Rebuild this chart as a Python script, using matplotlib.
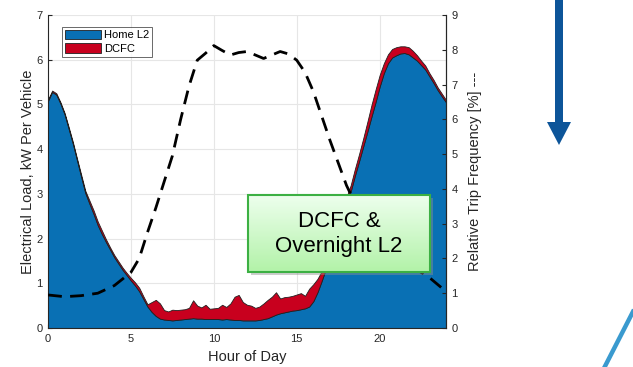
import numpy as np
import matplotlib
matplotlib.use('Agg')
import matplotlib.pyplot as plt
from matplotlib.patches import Rectangle, FancyArrow

plt.rcParams['font.family'] = ['Liberation Sans', 'DejaVu Sans']

# hour of day, 15 min steps
hours = np.arange(0, 24.01, 0.25)

# Home L2 load, kW per vehicle
home_l2 = [5.08, 5.28, 5.22, 5.02, 4.78, 4.45, 4.12, 3.75, 3.38, 3.02, 2.78, 2.55,
           2.30, 2.10, 1.92, 1.75, 1.58, 1.44, 1.30, 1.18, 1.06, 0.95, 0.82, 0.65,
           0.48, 0.36, 0.27, 0.21, 0.19, 0.18, 0.17, 0.18, 0.19, 0.20, 0.21, 0.22,
           0.21, 0.21, 0.20, 0.20, 0.20, 0.20, 0.19, 0.20, 0.19, 0.18, 0.18, 0.17,
           0.17, 0.17, 0.17, 0.18, 0.20, 0.22, 0.26, 0.30, 0.33, 0.35, 0.37, 0.39,
           0.40, 0.42, 0.44, 0.48, 0.60, 0.80, 1.05, 1.32, 1.60, 1.90, 2.20, 2.50,
           2.80, 3.05, 3.40, 3.72, 4.05, 4.38, 4.72, 5.05, 5.40, 5.70, 5.92, 6.05,
           6.10, 6.14, 6.15, 6.12, 6.05, 5.98, 5.88, 5.78, 5.63, 5.48, 5.32, 5.18,
           5.05]

# DCFC load stacked on top
dcfc = [0.03, 0.03, 0.03, 0.03, 0.03, 0.04, 0.04, 0.04, 0.05, 0.05, 0.07, 0.08,
        0.08, 0.08, 0.06, 0.05, 0.05, 0.05, 0.05, 0.05, 0.06, 0.07, 0.08, 0.06,
        0.05, 0.22, 0.36, 0.34, 0.21, 0.19, 0.24, 0.22, 0.22, 0.22, 0.24, 0.40,
        0.29, 0.25, 0.32, 0.23, 0.24, 0.25, 0.33, 0.27, 0.36, 0.52, 0.56, 0.41,
        0.35, 0.33, 0.28, 0.30, 0.35, 0.41, 0.44, 0.50, 0.33, 0.34, 0.33, 0.33,
        0.35, 0.36, 0.28, 0.40, 0.38, 0.30, 0.22, 0.18, 0.15, 0.15, 0.14, 0.14,
        0.13, 0.14, 0.15, 0.16, 0.18, 0.22, 0.26, 0.28, 0.26, 0.22, 0.20, 0.19,
        0.18, 0.16, 0.15, 0.16, 0.15, 0.12, 0.10, 0.09, 0.07, 0.07, 0.06, 0.06,
        0.05]

# relative trip frequency, %
trip_hours = [0, 1, 2, 3, 4, 5, 5.5, 6, 6.5, 7, 7.5, 8, 8.5, 9, 9.5, 10, 10.5, 11,
              11.5, 12, 12.5, 13, 13.5, 14, 14.5, 15, 15.5, 16, 16.5, 17, 17.5, 18,
              18.5, 19, 19.5, 20, 20.5, 21, 21.5, 22, 22.5, 23, 23.5, 24]
trip_freq = [0.95, 0.90, 0.93, 1.00, 1.22, 1.60, 2.00, 2.75, 3.45, 4.20, 4.95, 6.00,
             6.95, 7.70, 7.90, 8.12, 7.98, 7.85, 7.92, 7.95, 7.85, 7.75, 7.85, 7.95,
             7.88, 7.70, 7.35, 6.80, 6.10, 5.40, 4.75, 4.10, 3.60, 3.20, 2.85, 2.55,
             2.30, 2.05, 1.90, 1.75, 1.60, 1.45, 1.25, 1.05]

W, H = 633, 367
fig = plt.figure(figsize=(W / 100, H / 100), dpi=100)
ax = fig.add_axes([48 / W, 1 - 328 / H, 398 / W, 313 / H])

blue = '#0970b4'
red = '#c8001e'
ax.stackplot(hours, home_l2, dcfc, colors=[blue, red], labels=['Home L2', 'DCFC'],
             edgecolor='#202020', linewidth=0.6)
ax.set_xlim(0, 24)
ax.set_ylim(0, 7)
ax.set_xticks([0, 5, 10, 15, 20])
ax.set_yticks(range(8))
ax.grid(True, color='#e6e6e6', linewidth=0.8)
ax.set_axisbelow(True)
ax.tick_params(direction='in', length=3, labelsize=8, colors='#262626', pad=4)
for s in ['left', 'bottom', 'right']:
    ax.spines[s].set_color('#262626')
ax.spines['top'].set_visible(False)
ax.set_xlabel('Hour of Day', fontsize=10.5, color='#262626', labelpad=5)
ax.set_ylabel('Electrical Load, kW Per Vehicle', fontsize=10.5, color='#262626', labelpad=1)

leg = ax.legend(loc='upper left', bbox_to_anchor=(0.035, 0.962), fontsize=8,
                frameon=True, fancybox=False, handlelength=3.3, handleheight=0.9,
                handletextpad=0.25, labelspacing=0.3, borderpad=0.25, borderaxespad=0)
leg.get_frame().set_edgecolor('#262626')
leg.get_frame().set_linewidth(0.6)

ax2 = ax.twinx()
ax2.plot(trip_hours, trip_freq, color='black', linewidth=2, dashes=(5, 3))
ax2.set_ylim(0, 9)
ax2.set_yticks(range(10))
ax2.tick_params(direction='in', length=3, labelsize=8, colors='#262626', pad=4)
ax2.spines['right'].set_color('#262626')
for s in ['left', 'top', 'bottom']:
    ax2.spines[s].set_visible(False)
ax2.set_ylabel('Relative Trip Frequency [%] ---', fontsize=10.5, color='#262626', labelpad=7)

# overlay in pixel coordinates for the annotations
ov = fig.add_axes([0, 0, 1, 1], zorder=10)
ov.patch.set_alpha(0)
ov.axis('off')

# text box with shadow and gradient
ov.add_patch(Rectangle((251, 198), 182, 77, color='#909090', alpha=0.45, linewidth=0))
grad = np.linspace(0, 1, 64)[:, None]
top_c = np.array([0.93, 1.0, 0.93])
bot_c = np.array([0.70, 0.95, 0.66])
img = top_c[None, None, :] * (1 - grad[:, :, None]) + bot_c[None, None, :] * grad[:, :, None]
ov.imshow(img, extent=(248, 430, 272, 195), aspect='auto', zorder=2)
ov.add_patch(Rectangle((248, 195), 182, 77, fill=False, edgecolor='#3cb043',
                       linewidth=1.5, zorder=3))
ov.text(339, 234, 'DCFC &\nOvernight L2', ha='center', va='center', fontsize=16,
        linespacing=1.3, color='black', zorder=4)

# arrow and diagonal line
ov.add_patch(FancyArrow(559, -5, 0, 150, width=8, head_width=24, head_length=23,
                        length_includes_head=True, color='#0d5599', linewidth=0))
ov.plot([640, 600], [298, 376], color='#3a9acf', linewidth=3.2, solid_capstyle='butt')

ov.set_xlim(0, W)
ov.set_ylim(H, 0)

fig.savefig('out.png', dpi=100)
